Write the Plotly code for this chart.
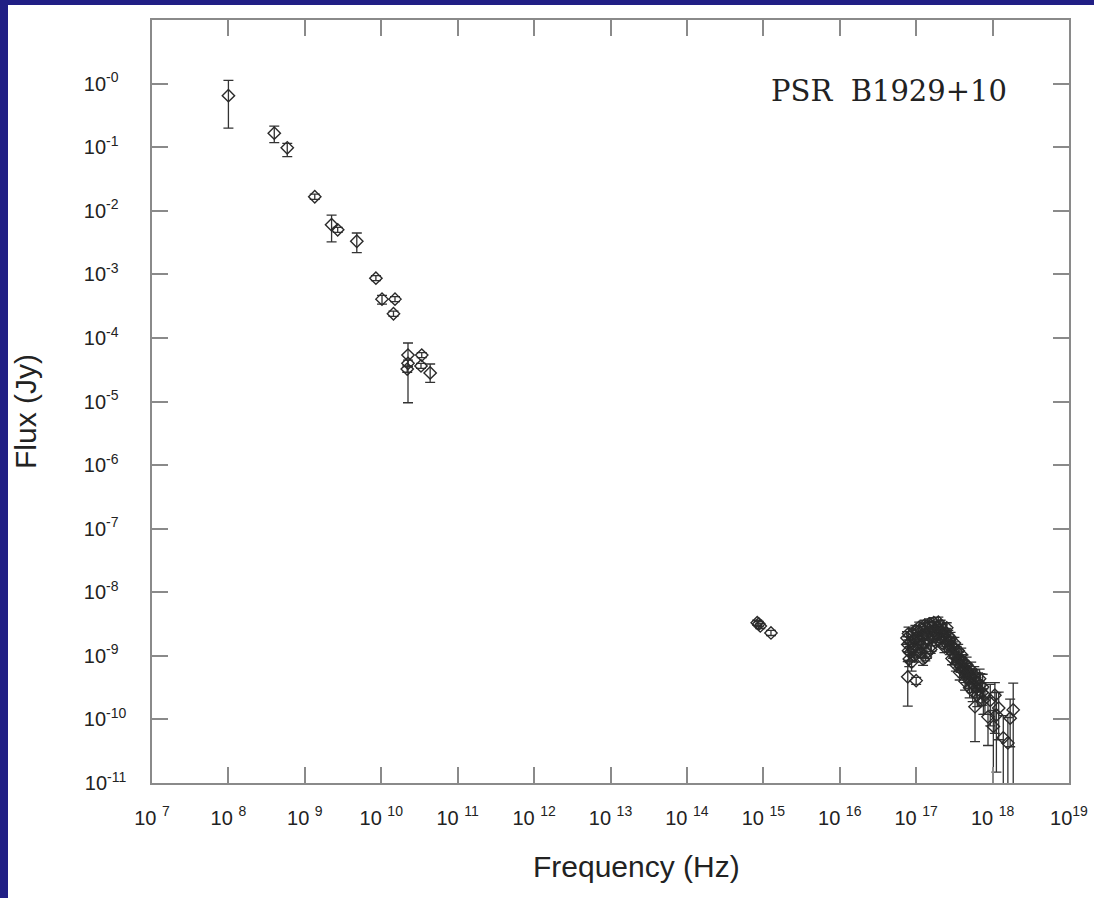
import numpy as np
import plotly.graph_objects as go

# ---------------- data (log10 of frequency [Hz] and flux [Jy]) ----------------
# Radio points
radio_logf = [8.00, 8.60, 8.77, 9.13, 9.35, 9.43, 9.68, 9.93, 10.01, 10.18, 10.16,
              10.35, 10.35, 10.34, 10.53, 10.52, 10.64]
radio_logs = [-0.19, -0.78, -1.01, -1.78, -2.22, -2.30, -2.48, -3.06, -3.39, -3.39, -3.62,
              -4.27, -4.40, -4.49, -4.27, -4.44, -4.55]
radio_up = [0.24, 0.11, 0.07, 0.04, 0.15, 0.04, 0.13, 0.04, 0.06, 0.04, 0.04,
            0.19, 0.05, 0.05, 0.04, 0.04, 0.14]
radio_dn = [0.51, 0.15, 0.14, 0.04, 0.27, 0.04, 0.18, 0.04, 0.08, 0.04, 0.04,
            0.75, 0.05, 0.05, 0.04, 0.04, 0.15]

# Optical / UV points
opt_logf = [14.92, 14.94, 14.96, 15.10]
opt_logs = [-8.48, -8.50, -8.53, -8.64]
opt_up = [0.04, 0.04, 0.04, 0.04]
opt_dn = [0.04, 0.04, 0.04, 0.04]

# X-ray points
xr_logf = [16.88, 16.89, 16.90, 16.89, 16.91, 16.93, 16.95, 16.96, 16.98, 17.00,
           17.00, 17.02, 17.03, 17.05, 17.06, 17.08, 17.09, 17.10, 17.12, 17.13,
           17.15, 17.16, 17.18, 17.19, 17.21, 17.22, 17.24, 17.25, 17.27, 17.28,
           17.30, 17.31, 17.33, 17.34, 17.36, 17.38, 17.39, 17.41, 17.43, 17.44,
           17.46, 17.48, 17.49, 17.51, 17.53, 17.54, 17.56, 17.58, 17.60, 17.61,
           17.63, 17.65, 17.67, 17.69, 17.71, 17.73, 17.75, 17.77, 17.79, 17.81,
           17.84, 17.87, 17.90, 17.94, 17.97, 18.01, 18.03, 18.05, 18.08, 18.14,
           18.20, 18.23, 18.27,
           16.90, 16.92, 16.94, 16.97, 16.99, 17.01, 17.04, 17.07, 17.09, 17.11,
           17.14, 17.17, 17.20, 17.23, 17.26, 17.29, 17.32, 17.35, 17.37, 17.40,
           17.42, 17.45, 17.47, 17.50, 17.52, 17.55, 17.57, 17.59, 17.62, 17.64,
           17.66, 17.68, 17.70, 17.72, 17.74, 17.76, 17.78, 17.80, 17.83, 17.86,
           17.88]
xr_logs = [-8.72, -8.82, -8.92, -9.33, -9.05, -8.78, -8.66, -8.88, -9.00, -9.39,
           -8.72, -8.82, -8.62, -8.75, -8.95, -8.68, -8.58, -8.80, -9.02, -8.66,
           -8.56, -8.74, -8.62, -8.90, -8.54, -8.70, -8.60, -8.78, -8.55, -8.66,
           -8.58, -8.72, -8.62, -8.80, -8.68, -8.74, -8.64, -8.82, -8.76, -8.90,
           -8.84, -8.96, -8.86, -9.02, -8.94, -9.10, -9.04, -9.16, -9.08, -9.24,
           -9.18, -9.30, -9.24, -9.38, -9.32, -9.44, -9.36, -9.80, -9.50, -9.42,
           -9.46, -9.49, -9.62, -9.96, -9.70, -10.11, -9.62, -9.93, -9.82, -10.29,
           -10.37, -9.98, -9.85,
           -8.65, -8.95, -9.10, -8.74, -8.60, -8.92, -8.55, -8.85, -9.05, -8.52,
           -8.95, -8.50, -8.84, -8.48, -8.66, -8.47, -8.52, -8.58, -8.86, -8.56,
           -8.68, -8.72, -9.04, -8.80, -9.14, -8.92, -9.26, -8.98, -9.10, -9.40,
           -9.14, -9.28, -9.50, -9.22, -9.56, -9.30, -9.40, -9.62, -9.36, -9.58,
           -9.70]
xr_up = [0.10, 0.12, 0.12, 0.24, 0.10, 0.08, 0.08, 0.10, 0.10, 0.05,
         0.08, 0.08, 0.08, 0.07, 0.08, 0.07, 0.08, 0.07, 0.06, 0.07,
         0.08, 0.07, 0.07, 0.06, 0.08, 0.07, 0.07, 0.06, 0.09, 0.07,
         0.07, 0.07, 0.07, 0.06, 0.07, 0.07, 0.07, 0.07, 0.07, 0.08,
         0.08, 0.08, 0.08, 0.09, 0.09, 0.09, 0.10, 0.10, 0.10, 0.10,
         0.11, 0.12, 0.12, 0.13, 0.12, 0.14, 0.14, 0.58, 0.16, 0.15,
         0.18, 0.20, 0.20, 0.30, 0.25, 0.25, 0.20, 0.35, 0.25, 0.35,
         0.40, 0.30, 0.42,
         0.10, 0.10, 0.12, 0.08, 0.08, 0.09, 0.08, 0.09, 0.10, 0.08,
         0.09, 0.08, 0.09, 0.08, 0.08, 0.08, 0.08, 0.08, 0.09, 0.08,
         0.08, 0.09, 0.10, 0.09, 0.10, 0.10, 0.11, 0.10, 0.11, 0.12,
         0.12, 0.12, 0.13, 0.12, 0.14, 0.13, 0.14, 0.15, 0.15, 0.16,
         0.18]
xr_dn = [0.10, 0.12, 0.15, 0.46, 0.12, 0.08, 0.08, 0.10, 0.10, 0.06,
         0.08, 0.08, 0.08, 0.07, 0.08, 0.07, 0.08, 0.07, 0.06, 0.07,
         0.08, 0.07, 0.07, 0.06, 0.08, 0.07, 0.07, 0.06, 0.09, 0.07,
         0.07, 0.07, 0.07, 0.06, 0.07, 0.07, 0.07, 0.07, 0.07, 0.08,
         0.08, 0.08, 0.08, 0.09, 0.09, 0.09, 0.10, 0.10, 0.10, 0.10,
         0.11, 0.12, 0.12, 0.13, 0.12, 0.14, 0.14, 0.55, 0.16, 0.15,
         0.20, 0.25, 0.30, 0.45, 0.40, 1.50, 0.60, 0.90, 0.50, 1.50,
         1.50, 0.45, 1.50,
         0.10, 0.12, 0.14, 0.08, 0.08, 0.10, 0.08, 0.09, 0.10, 0.08,
         0.09, 0.08, 0.09, 0.08, 0.08, 0.08, 0.08, 0.08, 0.09, 0.08,
         0.08, 0.09, 0.10, 0.09, 0.10, 0.10, 0.12, 0.10, 0.11, 0.14,
         0.12, 0.13, 0.16, 0.13, 0.16, 0.14, 0.15, 0.18, 0.16, 0.20,
         0.22]

x_tick_exp = [7, 8, 9, 10, 11, 12, 13, 14, 15, 16, 17, 18, 19]
x_tick_text = ["10 <sup>7</sup>", "10 <sup>8</sup>", "10 <sup>9</sup>", "10 <sup>10</sup>",
               "10 <sup>11</sup>", "10 <sup>12</sup>", "10 <sup>13</sup>", "10 <sup>14</sup>",
               "10 <sup>15</sup>", "10 <sup>16</sup>", "10 <sup>17</sup>", "10 <sup>18</sup>",
               "10<sup>19</sup>"]
y_tick_exp = [0, -1, -2, -3, -4, -5, -6, -7, -8, -9, -10, -11]
# figure-space padding keeps the labels left-aligned like the original
y_tick_text = ["10<sup>-0\u2007</sup>", "10<sup>-1\u2007</sup>", "10<sup>-2\u2007</sup>",
               "10<sup>-3\u2007</sup>", "10<sup>-4\u2007</sup>", "10<sup>-5\u2007</sup>",
               "10<sup>-6\u2007</sup>", "10<sup>-7\u2007</sup>", "10<sup>-8\u2007</sup>",
               "10<sup>-9\u2007</sup>", "10<sup>-10</sup>", "10<sup>-11</sup>"]

# ---------------- figure ----------------
W, H = 1094, 898
L, R, T, B = 152, 25, 20, 115
pw, ph = W - L - R, H - T - B

def trace(lf, ls, up, dn, name):
    f = 10 ** np.array(lf)
    s = 10 ** np.array(ls)
    hi = 10 ** (np.array(ls) + np.array(up))
    lo = 10 ** (np.array(ls) - np.array(dn))
    return go.Scatter(
        x=f, y=s, mode="markers", name=name, showlegend=False,
        marker=dict(symbol="diamond-open", size=9.5, color="#2a2a2a",
                    line=dict(width=1.4, color="#2a2a2a")),
        error_y=dict(type="data", symmetric=False, array=hi - s, arrayminus=s - lo,
                     color="#333333", thickness=1.3, width=5),
    )

fig = go.Figure()
fig.add_trace(trace(radio_logf, radio_logs, radio_up, radio_dn, "radio"))
fig.add_trace(trace(opt_logf, opt_logs, opt_up, opt_dn, "optical"))
fig.add_trace(trace(xr_logf, xr_logs, xr_up, xr_dn, "x-ray"))

axis_common = dict(
    showgrid=False, zeroline=False, showline=True, linecolor="#8a8a8a", linewidth=1.5,
    ticks="inside", ticklen=16, tickwidth=1.5, tickcolor="#8a8a8a", mirror="allticks",
    tickfont=dict(family="Liberation Sans, Arial, sans-serif", size=20, color="#222222"),
)

fig.update_xaxes(type="log", range=[7, 19],
                 tickvals=[10.0 ** e for e in x_tick_exp], ticktext=x_tick_text,
                 ticklabelstandoff=16, **axis_common)
fig.update_yaxes(type="log", range=[-11, 1],
                 tickvals=[10.0 ** e for e in y_tick_exp], ticktext=y_tick_text,
                 ticklabelstandoff=20, **axis_common)

fig.update_layout(
    width=W, height=H,
    margin=dict(l=L, r=R, t=T, b=B, autoexpand=False),
    paper_bgcolor="#211f85", plot_bgcolor="white",
    shapes=[dict(type="rect", xref="paper", yref="paper", layer="below",
                 x0=(8 - L) / pw, x1=1.2, y0=-0.3, y1=(H - B - 5) / ph,
                 fillcolor="white", line=dict(width=0))],
    annotations=[
        dict(text="PSR\u00a0 B1929+10", xref="paper", yref="paper",
             x=(888.5 - L) / pw, y=(H - B - 91) / ph, xanchor="center", yanchor="middle",
             showarrow=False, font=dict(family="DejaVu Serif, serif", size=29, color="#222222")),
        dict(text="Flux (Jy)", xref="paper", yref="paper", textangle=-90,
             x=(25 - L) / pw, y=(H - B - 412) / ph, xanchor="center", yanchor="middle",
             showarrow=False, font=dict(family="Liberation Sans, Arial, sans-serif", size=30, color="#222222")),
        dict(text="Frequency (Hz)", xref="paper", yref="paper",
             x=(636.5 - L) / pw, y=(H - B - 866) / ph, xanchor="center", yanchor="middle",
             showarrow=False, font=dict(family="Liberation Sans, Arial, sans-serif", size=30, color="#222222")),
    ],
)

fig.write_html("out.html")
